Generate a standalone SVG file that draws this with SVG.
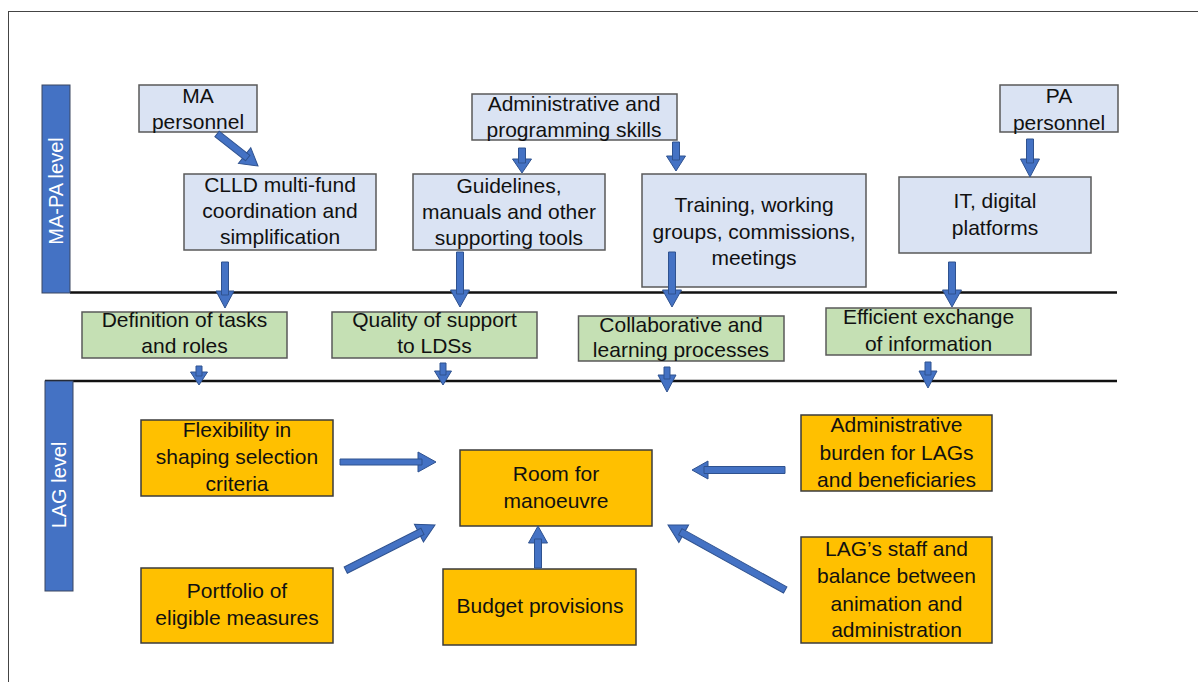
<svg xmlns="http://www.w3.org/2000/svg" width="1198" height="682" viewBox="0 0 1198 682">
<style>
  text { font-family: "Liberation Sans", Arial, sans-serif; font-size: 21px; fill: #111; text-anchor: middle; }
  .lbl { fill: #fff; font-size: 20px; }
  .bar { fill: #4472C4; stroke: #3a4660; stroke-width: 1; }
  .blue { fill: #DAE3F3; stroke: #595959; stroke-width: 1.5; }
  .green { fill: #C5E0B4; stroke: #595959; stroke-width: 1.5; }
  .orange { fill: #FFC000; stroke: #3b3b3b; stroke-width: 1.5; }
  .sep { stroke: #111; stroke-width: 2.5; }
  .arr polygon { fill: #4472C4; stroke: #2F528F; stroke-width: 1; stroke-linejoin: miter; }
  .arr path { fill: none; stroke: #2F528F; stroke-width: 1; }
</style>
<rect x="8.5" y="11.5" width="1200" height="700" fill="#fff" stroke="#444" stroke-width="1"/>

<g id="levels">
  <line class="sep" x1="70" y1="292.5" x2="1117" y2="292.5"/>
  <line class="sep" x1="45" y1="381" x2="1117" y2="381"/>
  <g id="ma-pa-level">
    <rect class="bar" x="42" y="85" width="28" height="208"/>
    <text class="lbl" transform="translate(63,191) rotate(-90)">MA-PA level</text>
  </g>
  <g id="lag-level">
    <rect class="bar" x="45" y="381" width="28" height="210"/>
    <text class="lbl" transform="translate(66,485) rotate(-90)">LAG level</text>
  </g>
</g>

<g id="ma-personnel">
  <rect class="blue" x="139" y="85" width="118" height="47"/>
  <text x="198" y="103">MA</text>
  <text x="198" y="129">personnel</text>
</g>
<g id="clld">
  <rect class="blue" x="184" y="174" width="192" height="76"/>
  <text x="280" y="192">CLLD multi-fund</text>
  <text x="280" y="218">coordination and</text>
  <text x="280" y="244">simplification</text>
</g>
<g id="admin-skills">
  <rect class="blue" x="472" y="94" width="205" height="46"/>
  <text x="574" y="111">Administrative and</text>
  <text x="574" y="137">programming skills</text>
</g>
<g id="guidelines">
  <rect class="blue" x="413" y="174" width="192" height="76"/>
  <text x="509" y="193">Guidelines,</text>
  <text x="509" y="219">manuals and other</text>
  <text x="509" y="245">supporting tools</text>
</g>
<g id="training">
  <rect class="blue" x="642" y="174" width="224" height="113"/>
  <text x="754" y="212">Training, working</text>
  <text x="754" y="239">groups, commissions,</text>
  <text x="754" y="265">meetings</text>
</g>
<g id="pa-personnel">
  <rect class="blue" x="1000" y="85" width="118" height="47"/>
  <text x="1059" y="103">PA</text>
  <text x="1059" y="130">personnel</text>
</g>
<g id="it">
  <rect class="blue" x="899" y="177" width="192" height="76"/>
  <text x="995" y="208">IT, digital</text>
  <text x="995" y="235">platforms</text>
</g>

<g id="definition">
  <rect class="green" x="82" y="312" width="205" height="46"/>
  <text x="184.5" y="327">Definition of tasks</text>
  <text x="184.5" y="353">and roles</text>
</g>
<g id="quality">
  <rect class="green" x="332" y="312" width="205" height="46"/>
  <text x="434.5" y="327">Quality of support</text>
  <text x="434.5" y="353">to LDSs</text>
</g>
<g id="collaborative">
  <rect class="green" x="578.5" y="316" width="205.5" height="45"/>
  <text x="681" y="332">Collaborative and</text>
  <text x="681" y="357">learning processes</text>
</g>
<g id="efficient">
  <rect class="green" x="826" y="308" width="205" height="47"/>
  <text x="928.5" y="324">Efficient exchange</text>
  <text x="928.5" y="351">of information</text>
</g>

<g id="flexibility">
  <rect class="orange" x="141" y="420" width="192" height="76"/>
  <text x="237" y="437">Flexibility in</text>
  <text x="237" y="464">shaping selection</text>
  <text x="237" y="491">criteria</text>
</g>
<g id="portfolio">
  <rect class="orange" x="141" y="568" width="192" height="75"/>
  <text x="237" y="598">Portfolio of</text>
  <text x="237" y="625">eligible measures</text>
</g>
<g id="room">
  <rect class="orange" x="460" y="450" width="192" height="76"/>
  <text x="556" y="481">Room for</text>
  <text x="556" y="508">manoeuvre</text>
</g>
<g id="budget">
  <rect class="orange" x="443" y="569" width="193" height="76"/>
  <text x="540" y="613">Budget provisions</text>
</g>
<g id="admin-burden">
  <rect class="orange" x="801" y="415" width="191" height="76"/>
  <text x="896.5" y="432">Administrative</text>
  <text x="896.5" y="460">burden for LAGs</text>
  <text x="896.5" y="487">and beneficiaries</text>
</g>
<g id="lag-staff">
  <rect class="orange" x="801" y="537" width="191" height="106"/>
  <text x="896.5" y="556">LAG’s staff and</text>
  <text x="896.5" y="583">balance between</text>
  <text x="896.5" y="611">animation and</text>
  <text x="896.5" y="637">administration</text>
</g>

<g id="connectors" class="arr">
  <g transform="translate(258,166) rotate(38)"><polygon points="-52,-3.5 -17,-3.5 -17,-10 0,0 -17,10 -17,3.5 -52,3.5"/><path d="M-17,-3.5 h4 v7 h-4"/></g>
  <g transform="translate(522,173) rotate(90)"><polygon points="-25,-3.5 -14,-3.5 -14,-9.5 0,0 -14,9.5 -14,3.5 -25,3.5"/><path d="M-14,-3.5 h4 v7 h-4"/></g>
  <g transform="translate(676,171) rotate(90)"><polygon points="-29,-3.5 -15,-3.5 -15,-9.5 0,0 -15,9.5 -15,3.5 -29,3.5"/><path d="M-15,-3.5 h4 v7 h-4"/></g>
  <g transform="translate(1030,177) rotate(90)"><polygon points="-38,-3.5 -18,-3.5 -18,-9.5 0,0 -18,9.5 -18,3.5 -38,3.5"/><path d="M-18,-3.5 h4 v7 h-4"/></g>
  <g transform="translate(225,308) rotate(90)"><polygon points="-46,-3.5 -17,-3.5 -17,-9 0,0 -17,9 -17,3.5 -46,3.5"/><path d="M-17,-3.5 h4 v7 h-4"/></g>
  <g transform="translate(460,307) rotate(90)"><polygon points="-55,-3.5 -17,-3.5 -17,-9.5 0,0 -17,9.5 -17,3.5 -55,3.5"/><path d="M-17,-3.5 h4 v7 h-4"/></g>
  <g transform="translate(672,307) rotate(90)"><polygon points="-55,-3.5 -17,-3.5 -17,-9.5 0,0 -17,9.5 -17,3.5 -55,3.5"/><path d="M-17,-3.5 h4 v7 h-4"/></g>
  <g transform="translate(952,307) rotate(90)"><polygon points="-45,-3.5 -17,-3.5 -17,-9.5 0,0 -17,9.5 -17,3.5 -45,3.5"/><path d="M-17,-3.5 h4 v7 h-4"/></g>
  <g transform="translate(199,385) rotate(90)"><polygon points="-19,-3 -13,-3 -13,-8.5 0,0 -13,8.5 -13,3 -19,3"/><path d="M-13,-3 h4 v6 h-4"/></g>
  <g transform="translate(443,385) rotate(90)"><polygon points="-22,-3 -14,-3 -14,-8.5 0,0 -14,8.5 -14,3 -22,3"/><path d="M-14,-3 h4 v6 h-4"/></g>
  <g transform="translate(667,392) rotate(90)"><polygon points="-25,-3 -17,-3 -17,-9 0,0 -17,9 -17,3 -25,3"/><path d="M-17,-3 h4 v6 h-4"/></g>
  <g transform="translate(928,388) rotate(90)"><polygon points="-26,-3 -17,-3 -17,-9 0,0 -17,9 -17,3 -26,3"/><path d="M-17,-3 h4 v6 h-4"/></g>
  <g transform="translate(436,462) rotate(0)"><polygon points="-96,-3 -18,-3 -18,-10 0,0 -18,10 -18,3 -96,3"/><path d="M-18,-3 h4 v6 h-4"/></g>
  <g transform="translate(435,525) rotate(-26.8)"><polygon points="-100,-3.5 -18,-3.5 -18,-10 0,0 -18,10 -18,3.5 -100,3.5"/><path d="M-18,-3.5 h4 v7 h-4"/></g>
  <g transform="translate(538,526) rotate(-90)"><polygon points="-42,-3.5 -17,-3.5 -17,-9.5 0,0 -17,9.5 -17,3.5 -42,3.5"/><path d="M-17,-3.5 h4 v7 h-4"/></g>
  <g transform="translate(692,470) rotate(180)"><polygon points="-93,-3.5 -16,-3.5 -16,-9 0,0 -16,9 -16,3.5 -93,3.5"/><path d="M-16,-3.5 h4 v7 h-4"/></g>
  <g transform="translate(668,525) rotate(-151)"><polygon points="-134,-3.5 -18,-3.5 -18,-10 0,0 -18,10 -18,3.5 -134,3.5"/><path d="M-18,-3.5 h4 v7 h-4"/></g>
</g>
</svg>
